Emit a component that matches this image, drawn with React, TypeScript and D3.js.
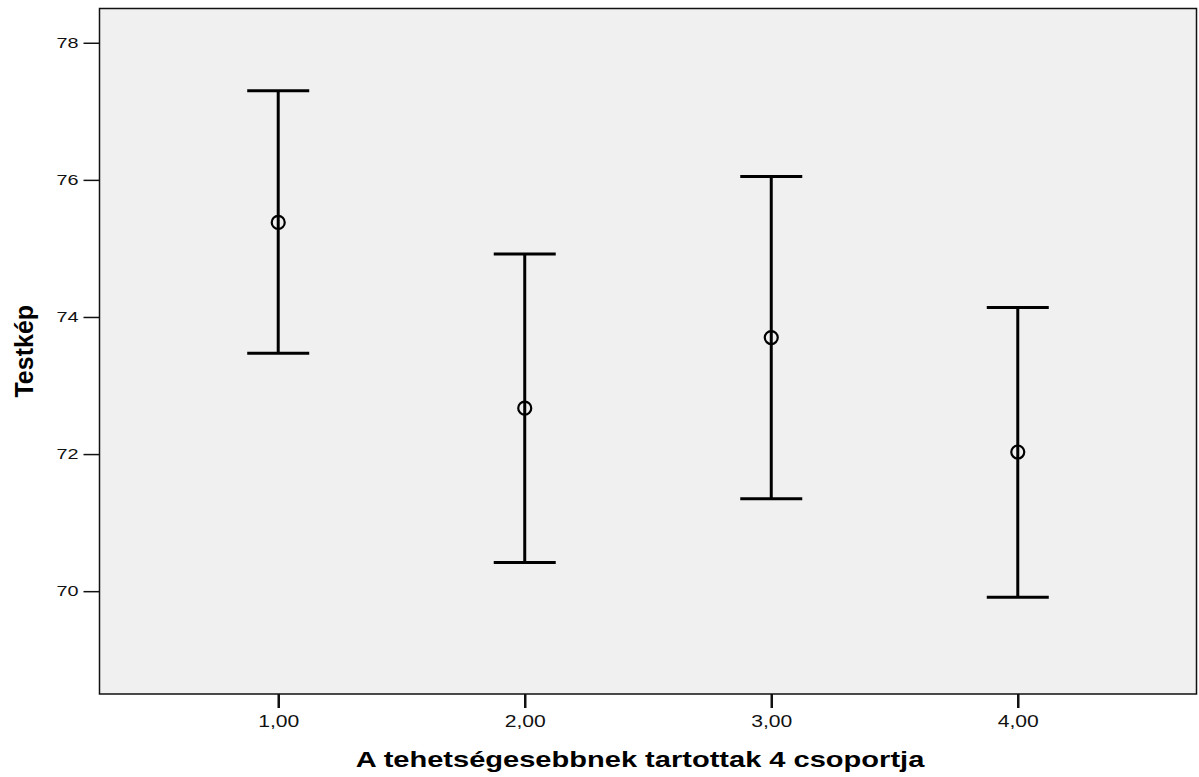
import React, { useEffect, useRef } from 'react'
import * as d3 from 'd3'

const groups = [1, 2, 3, 4]
const groupLabels = ['1,00', '2,00', '3,00', '4,00']
const means = [75.38, 72.67, 73.7, 72.03]
const upper = [77.3, 74.92, 76.05, 74.14]
const lower = [73.47, 70.42, 71.35, 69.91]
const yTicks = [70, 72, 74, 76, 78]

const W = 1199
const H = 777
const FONT = "Arial, 'Liberation Sans', sans-serif"
const STRETCH = 1.32

// the original text is drawn a bit wider than the font
function widen(sel: d3.Selection<any, any, any, any>) {
	sel.each(function () {
		const node = this as SVGTextElement
		const w = node.getComputedTextLength()
		d3.select(node).attr('textLength', w * STRETCH).attr('lengthAdjust', 'spacingAndGlyphs')
	})
}

export default function App() {
	const ref = useRef<SVGSVGElement>(null)

	useEffect(() => {
		const svg = d3.select(ref.current)
		svg.selectAll('*').remove()

		const left = 99.5, right = 1196.5, top = 8.5, bottom = 694
		const x = d3.scaleLinear().domain([0.275, 4.725]).range([left, right])
		const y = d3.scaleLinear().domain([68.5, 78.5]).range([bottom, top])

		svg.append('rect')
			.attr('x', left).attr('y', top)
			.attr('width', right - left).attr('height', bottom - top)
			.attr('fill', '#f0f0f0')
			.attr('stroke', '#111').attr('stroke-width', 1.5)

		// y axis
		const yAxis = svg.append('g')
			.attr('transform', 'translate(' + left + ',0)')
			.call(d3.axisLeft(y).tickValues(yTicks).tickSize(16).tickPadding(5).tickFormat(d3.format('d')))
		yAxis.select('.domain').remove()
		yAxis.selectAll('line').attr('stroke', '#111').attr('stroke-width', 1.5)
		yAxis.selectAll('text').attr('font-family', FONT).attr('font-size', 15).attr('fill', '#111')
		widen(yAxis.selectAll('text'))

		// x axis
		const xAxis = svg.append('g')
			.attr('transform', 'translate(0,' + bottom + ')')
			.call(d3.axisBottom(x).tickValues(groups).tickSize(14).tickPadding(8)
				.tickFormat((d, i) => groupLabels[i]))
		xAxis.select('.domain').remove()
		xAxis.selectAll('line').attr('stroke', '#111').attr('stroke-width', 2.5)
		xAxis.selectAll('text').attr('font-family', FONT).attr('font-size', 16).attr('fill', '#111')
		widen(xAxis.selectAll('text'))

		// error bars
		const capHalf = 31
		const bars = svg.append('g')
		groups.forEach((g, i) => {
			const cx = x(g)
			bars.append('line')
				.attr('x1', cx).attr('x2', cx)
				.attr('y1', y(upper[i])).attr('y2', y(lower[i]))
				.attr('stroke', '#000').attr('stroke-width', 3)
			bars.append('line')
				.attr('x1', cx - capHalf).attr('x2', cx + capHalf)
				.attr('y1', y(upper[i])).attr('y2', y(upper[i]))
				.attr('stroke', '#000').attr('stroke-width', 3)
			bars.append('line')
				.attr('x1', cx - capHalf).attr('x2', cx + capHalf)
				.attr('y1', y(lower[i])).attr('y2', y(lower[i]))
				.attr('stroke', '#000').attr('stroke-width', 3)
			bars.append('circle')
				.attr('cx', cx).attr('cy', y(means[i]))
				.attr('r', 6.5)
				.attr('fill', 'none')
				.attr('stroke', '#000').attr('stroke-width', 2.2)
		})

		// titles
		const xTitle = svg.append('text')
			.attr('x', 640).attr('y', 767)
			.attr('text-anchor', 'middle')
			.attr('font-family', FONT).attr('font-size', 22).attr('font-weight', 'bold')
			.attr('fill', '#000')
			.text('A tehetségesebbnek tartottak 4 csoportja')
		widen(xTitle)

		svg.append('text')
			.attr('transform', 'translate(33,' + (top + bottom) / 2 + ') rotate(-90)')
			.attr('text-anchor', 'middle')
			.attr('font-family', FONT).attr('font-size', 25).attr('font-weight', 'bold')
			.attr('fill', '#000')
			.text('Testkép')
	}, [])

	return (
		<svg ref={ref} width={W} height={H}
			style={{ position: 'absolute', left: 0, top: 0, background: '#fff' }} />
	)
}
